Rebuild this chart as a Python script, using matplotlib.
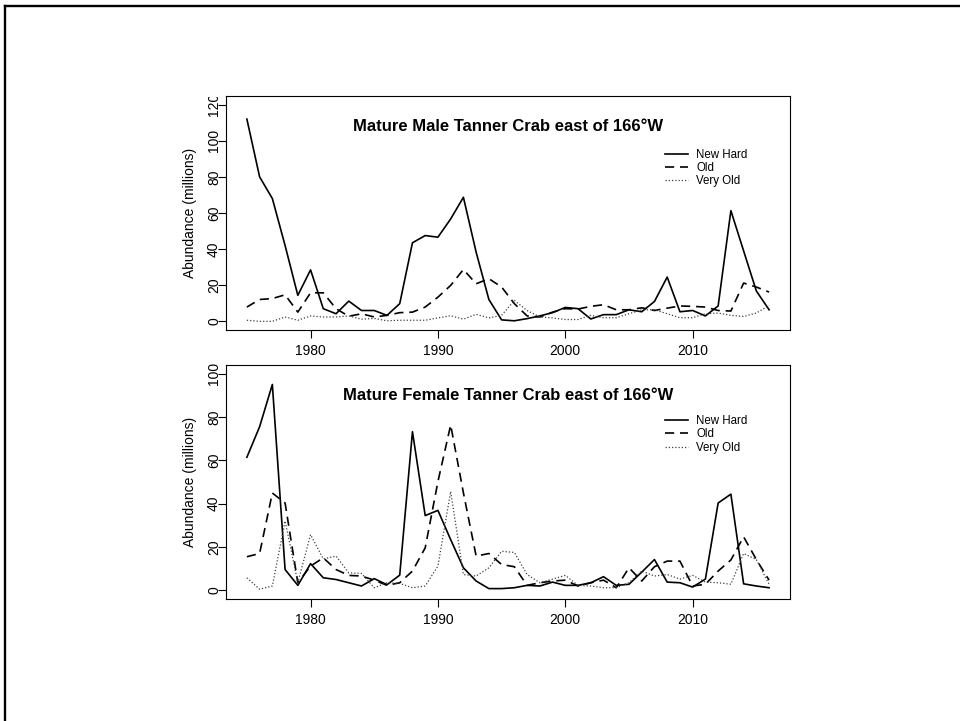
import numpy as np
import matplotlib
matplotlib.use("Agg")
import matplotlib.pyplot as plt
from matplotlib.lines import Line2D
from matplotlib.transforms import Bbox

plt.rcParams['font.family'] = ['Liberation Sans', 'DejaVu Sans']

years = list(range(1975, 2017))

# Mature males, abundance in millions
male_new_hard = [112, 80, 68, 42, 14.4, 28.5, 7, 4.2, 11.2, 6, 6, 3.3, 9.8, 43.5,
                 47.5, 46.6, 56.7, 68.7, 38.3, 12.1, 0.8, 0.3, 1.5, 3, 4.8, 7.7,
                 7, 1.3, 3.7, 3.7, 6.4, 5.3, 11, 24.5, 5.3, 6, 3, 8.5, 61.3, 39,
                 16.8, 6.4]
male_old = [7.9, 12.1, 12.6, 14.7, 5.1, 15.8, 15.8, 7, 2.8, 4.2, 2.4, 3.3, 4.8, 5.1,
            7.9, 13.4, 19.9, 28.7, 20.8, 23.6, 19, 9.8, 3, 2.4, 5.1, 7, 6.8, 8.3,
            9.2, 6.4, 6.4, 7.5, 6, 7.3, 8.5, 8.3, 7.9, 6, 5.7, 21.2, 19, 16.2]
male_very_old = [0.6, 0, 0, 2.4, 0.6, 3, 2.4, 2.4, 3, 1.2, 1.6, 0.3, 0.6, 0.6,
                 0.6, 1.9, 3.1, 1.2, 3.9, 1.9, 3.3, 11.6, 6, 2.4, 1.9, 1, 1, 3.3,
                 2, 2, 4.2, 6.4, 6.4, 4.2, 2, 2, 4.2, 4.6, 3.3, 2.7, 4.6, 8.8]

# Mature females, abundance in millions
female_new_hard = [61.4, 75.5, 95, 9.6, 2.3, 12.3, 5.8, 5, 3.5, 2, 5.4, 2.6, 7, 73.2,
                   34.5, 36.9, 23.4, 10.4, 4.3, 0.8, 0.8, 1.2, 2.3, 2, 3.8, 2.3,
                   2.3, 3.5, 6.3, 2.3, 2.8, 8.4, 14.2, 3.8, 3.5, 1.5, 5.2, 40.3,
                   44.4, 3, 2, 1.2]
female_old = [15.5, 17, 44.9, 40.3, 3.5, 11.2, 15, 9.6, 6.9, 6.6, 4.7, 2.3, 3.5, 8.9,
              19.6, 50.2, 76.3, 45, 15.8, 17, 11.9, 10.9, 2.3, 3.5, 4.3, 4.7, 2,
              3.5, 4.7, 1.2, 10.4, 4.3, 10.9, 13.5, 13.5, 2, 2.8, 8.9, 14, 24.7,
              14.2, 4.7]
female_very_old = [5.8, 0.5, 2, 32, 3.5, 25.7, 14.5, 15.8, 8.1, 7.8, 1.2, 3.5, 3.2,
                   1.2, 2, 11.2, 45.6, 7.3, 6.6, 10.4, 18, 17.5, 7.3, 3.5, 5.2, 6.9,
                   2.3, 2, 1.2, 1.2, 3.5, 8.9, 6.6, 7.3, 5.2, 6.9, 3.8, 3.5, 2.8, 17,
                   14.2, 2.8]

series_labels = ["New Hard", "Old", "Very Old"]
titles = ["Mature Male Tanner Crab east of 166\u00b0W",
          "Mature Female Tanner Crab east of 166\u00b0W"]
x_ticks = [1980, 1990, 2000, 2010]
male_yticks = [0, 20, 40, 60, 80, 100, 120]
female_yticks = [0, 20, 40, 60, 80, 100]

fig = plt.figure(figsize=(9.6, 7.21), dpi=100)
ax1 = fig.add_axes([0.2354, 0.5423, 0.5875, 0.3246])
ax2 = fig.add_axes([0.2354, 0.1692, 0.5875, 0.3246])


def draw_panel(ax, new_hard, old, very_old, title, yticks, ymax, legend_top):
    ax.plot(years, new_hard, color='black', lw=1.2, label=series_labels[0])
    ax.plot(years, old, color='black', lw=1.2, dashes=(5.5, 3.5), label=series_labels[1])
    ax.plot(years, very_old, color='0.25', lw=0.9, dashes=(1, 1.6), label=series_labels[2])
    span = 2016 - 1975
    ax.set_xlim(1975 - 0.04 * span, 2016 + 0.04 * span)
    ax.set_ylim(-0.04 * ymax, ymax * 1.04)
    ax.set_xticks(x_ticks)
    ax.set_yticks(yticks)
    ax.tick_params(direction='out', length=6, width=0.8, labelsize=10)
    ax.tick_params(axis='x', pad=4)
    ax.tick_params(axis='y', pad=-2.5)
    for lbl in ax.get_yticklabels():
        lbl.set_rotation(90)
        lbl.set_va('center')
    for s in ax.spines.values():
        s.set_linewidth(0.8)
    ax.set_ylabel("Abundance (millions)", fontsize=10, labelpad=7.5)
    ax.text(0.5, 0.87, title, transform=ax.transAxes, ha='center', va='center',
            fontsize=12, fontweight='bold')
    ax.legend(loc='upper left', bbox_to_anchor=(0.779, legend_top), frameon=False,
              fontsize=8.3, handlelength=2.0, handletextpad=0.7, labelspacing=0.1,
              borderpad=0, borderaxespad=0)


draw_panel(ax1, male_new_hard, male_old, male_very_old, titles[0], male_yticks, 120, 0.775)
draw_panel(ax2, female_new_hard, female_old, female_very_old, titles[1], female_yticks, 100, 0.785)

# top tick label of the upper panel is cut at the plot edge
clip = Bbox.from_extents(0, 0, 960, 721 - 97)
for tick in ax1.yaxis.get_major_ticks():
    tick.label1.set_clip_box(clip)
    tick.label1.set_clip_on(True)

# page border
fig.add_artist(Line2D([4.5 / 960, 1], [1 - 6 / 721, 1 - 6 / 721],
                      transform=fig.transFigure, color='black', lw=1.7))
fig.add_artist(Line2D([4.5 / 960, 4.5 / 960], [0, 1 - 6 / 721],
                      transform=fig.transFigure, color='black', lw=1.7))

fig.savefig("out.png", dpi=100)
